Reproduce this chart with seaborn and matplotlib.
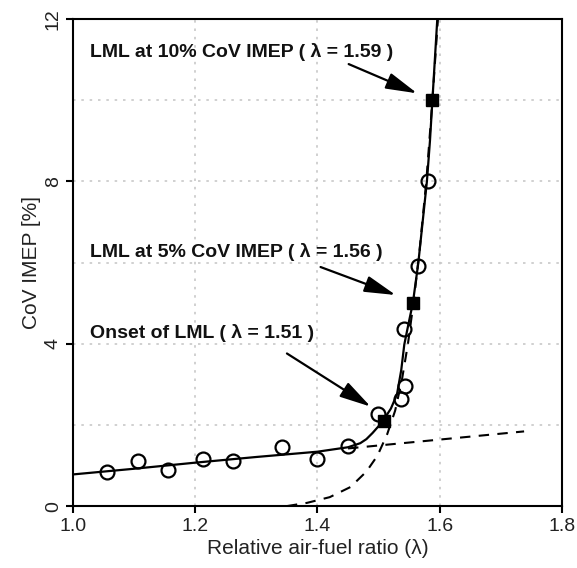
import numpy as np
import pandas as pd
import matplotlib
matplotlib.use("Agg")
import matplotlib.pyplot as plt
import seaborn as sns

# Measured CoV IMEP points (open circles)
meas_lambda = [1.055, 1.106, 1.155, 1.212, 1.261, 1.342, 1.399, 1.450, 1.499,
               1.536, 1.543, 1.541, 1.565, 1.580]
meas_cov = [0.84, 1.10, 0.88, 1.15, 1.11, 1.46, 1.17, 1.47, 2.26,
            2.63, 2.95, 4.36, 5.92, 8.00]

# LML markers (filled squares)
lml_lambda = [1.508, 1.557, 1.588]
lml_cov = [2.10, 5.00, 10.00]

# Solid fit curve
fit_lambda = [1.0, 1.1, 1.2, 1.3, 1.4, 1.45, 1.47, 1.48, 1.49, 1.50, 1.508,
              1.520, 1.530, 1.537, 1.542, 1.549, 1.556, 1.565, 1.572, 1.579,
              1.584, 1.588, 1.592, 1.596]
fit_cov = [0.78, 0.92, 1.07, 1.21, 1.34, 1.45, 1.55, 1.65, 1.80, 1.97, 2.12,
           2.40, 2.75, 3.35, 3.98, 4.50, 5.00, 6.00, 7.00, 8.00,
           9.00, 10.00, 11.00, 12.00]

# Dashed linear component
lin_lambda = [1.45, 1.738]
lin_cov = [1.42, 1.84]

# Dashed exponential component
exp_lambda = [1.35, 1.383, 1.42, 1.454, 1.48, 1.498, 1.514, 1.527, 1.538,
              1.548, 1.557, 1.567, 1.578, 1.588, 1.597]
exp_cov = [0.00, 0.08, 0.22, 0.47, 0.85, 1.24, 1.77, 2.35, 3.10,
           4.00, 5.00, 6.30, 8.00, 10.00, 12.00]

x_ticks = [1.0, 1.2, 1.4, 1.6, 1.8]
y_ticks = [0, 4, 8, 12]

annotations = [
    ("LML at 10% CoV IMEP ( λ = 1.59 )", (1.028, 11.18), (1.451, 10.89), (1.563, 10.17)),
    ("LML at 5% CoV IMEP ( λ = 1.56 )", (1.028, 6.26), (1.405, 5.89), (1.528, 5.20)),
    ("Onset of LML ( λ = 1.51 )", (1.028, 4.26), (1.350, 3.76), (1.487, 2.45)),
]

sns.set_theme(style="white")
plt.rcParams['font.family'] = ['Liberation Sans', 'DejaVu Sans']

fig = plt.figure(figsize=(5.77, 5.68), dpi=100)
ax = fig.add_axes([0.1265, 0.109, 0.8475, 0.8575])

df_meas = pd.DataFrame({"lam": meas_lambda, "cov": meas_cov})
df_lml = pd.DataFrame({"lam": lml_lambda, "cov": lml_cov})
df_fit = pd.DataFrame({"lam": fit_lambda, "cov": fit_cov})
df_lin = pd.DataFrame({"lam": lin_lambda, "cov": lin_cov})
df_exp = pd.DataFrame({"lam": exp_lambda, "cov": exp_cov})

sns.lineplot(data=df_lin, x="lam", y="cov", ax=ax, color="black", lw=1.5,
             linestyle=(0, (5, 4)), sort=False, zorder=3)
sns.lineplot(data=df_exp, x="lam", y="cov", ax=ax, color="black", lw=1.5,
             linestyle=(0, (5, 4)), sort=False, zorder=3)
sns.lineplot(data=df_fit, x="lam", y="cov", ax=ax, color="black", lw=1.6,
             sort=False, zorder=4)
ax.plot(df_meas["lam"], df_meas["cov"], linestyle="none", marker="o",
        markersize=10, markerfacecolor="none", markeredgecolor="black",
        markeredgewidth=1.6, zorder=5)
ax.plot(df_lml["lam"], df_lml["cov"], linestyle="none", marker="s",
        markersize=8.5, color="black", zorder=6)

for text, tpos, astart, aend in annotations:
    ax.text(tpos[0], tpos[1], text, fontsize=14, fontweight="bold",
            ha="left", va="center", color="#111111", zorder=7)
    ax.annotate("", xy=aend, xytext=astart,
                arrowprops=dict(arrowstyle="-|>,head_length=1.6,head_width=0.42",
                                color="black", lw=1.6, shrinkA=0, shrinkB=0),
                zorder=7)

ax.set_xlim(1.0, 1.8)
ax.set_ylim(0, 12)
ax.set_xticks(x_ticks)
ax.set_xticklabels([f"{v:.1f}" for v in x_ticks])
ax.set_yticks(y_ticks)
ax.set_yticklabels([str(v) for v in y_ticks], rotation=90, va="center")
ax.set_yticks([2, 6, 10], minor=True)
ax.set_xticks([], minor=True)

ax.grid(True, which="both", color="#c8c8c8", linestyle=(0, (1.5, 3.5)), lw=1.2)
ax.set_axisbelow(True)

for s in ax.spines.values():
    s.set_color("black")
    s.set_linewidth(1.5)

ax.tick_params(axis="both", which="major", direction="out", length=5, width=1.5,
               color="black", labelsize=14, labelcolor="#222222", bottom=True, left=True)
ax.tick_params(axis="y", which="minor", length=0)
ax.tick_params(axis="y", which="major", pad=3)

ax.set_xlabel("Relative air-fuel ratio (λ)", fontsize=15, color="#222222", labelpad=3)
ax.set_ylabel("CoV IMEP [%]", fontsize=15, color="#222222", labelpad=3)

fig.savefig("out.png", dpi=100)
